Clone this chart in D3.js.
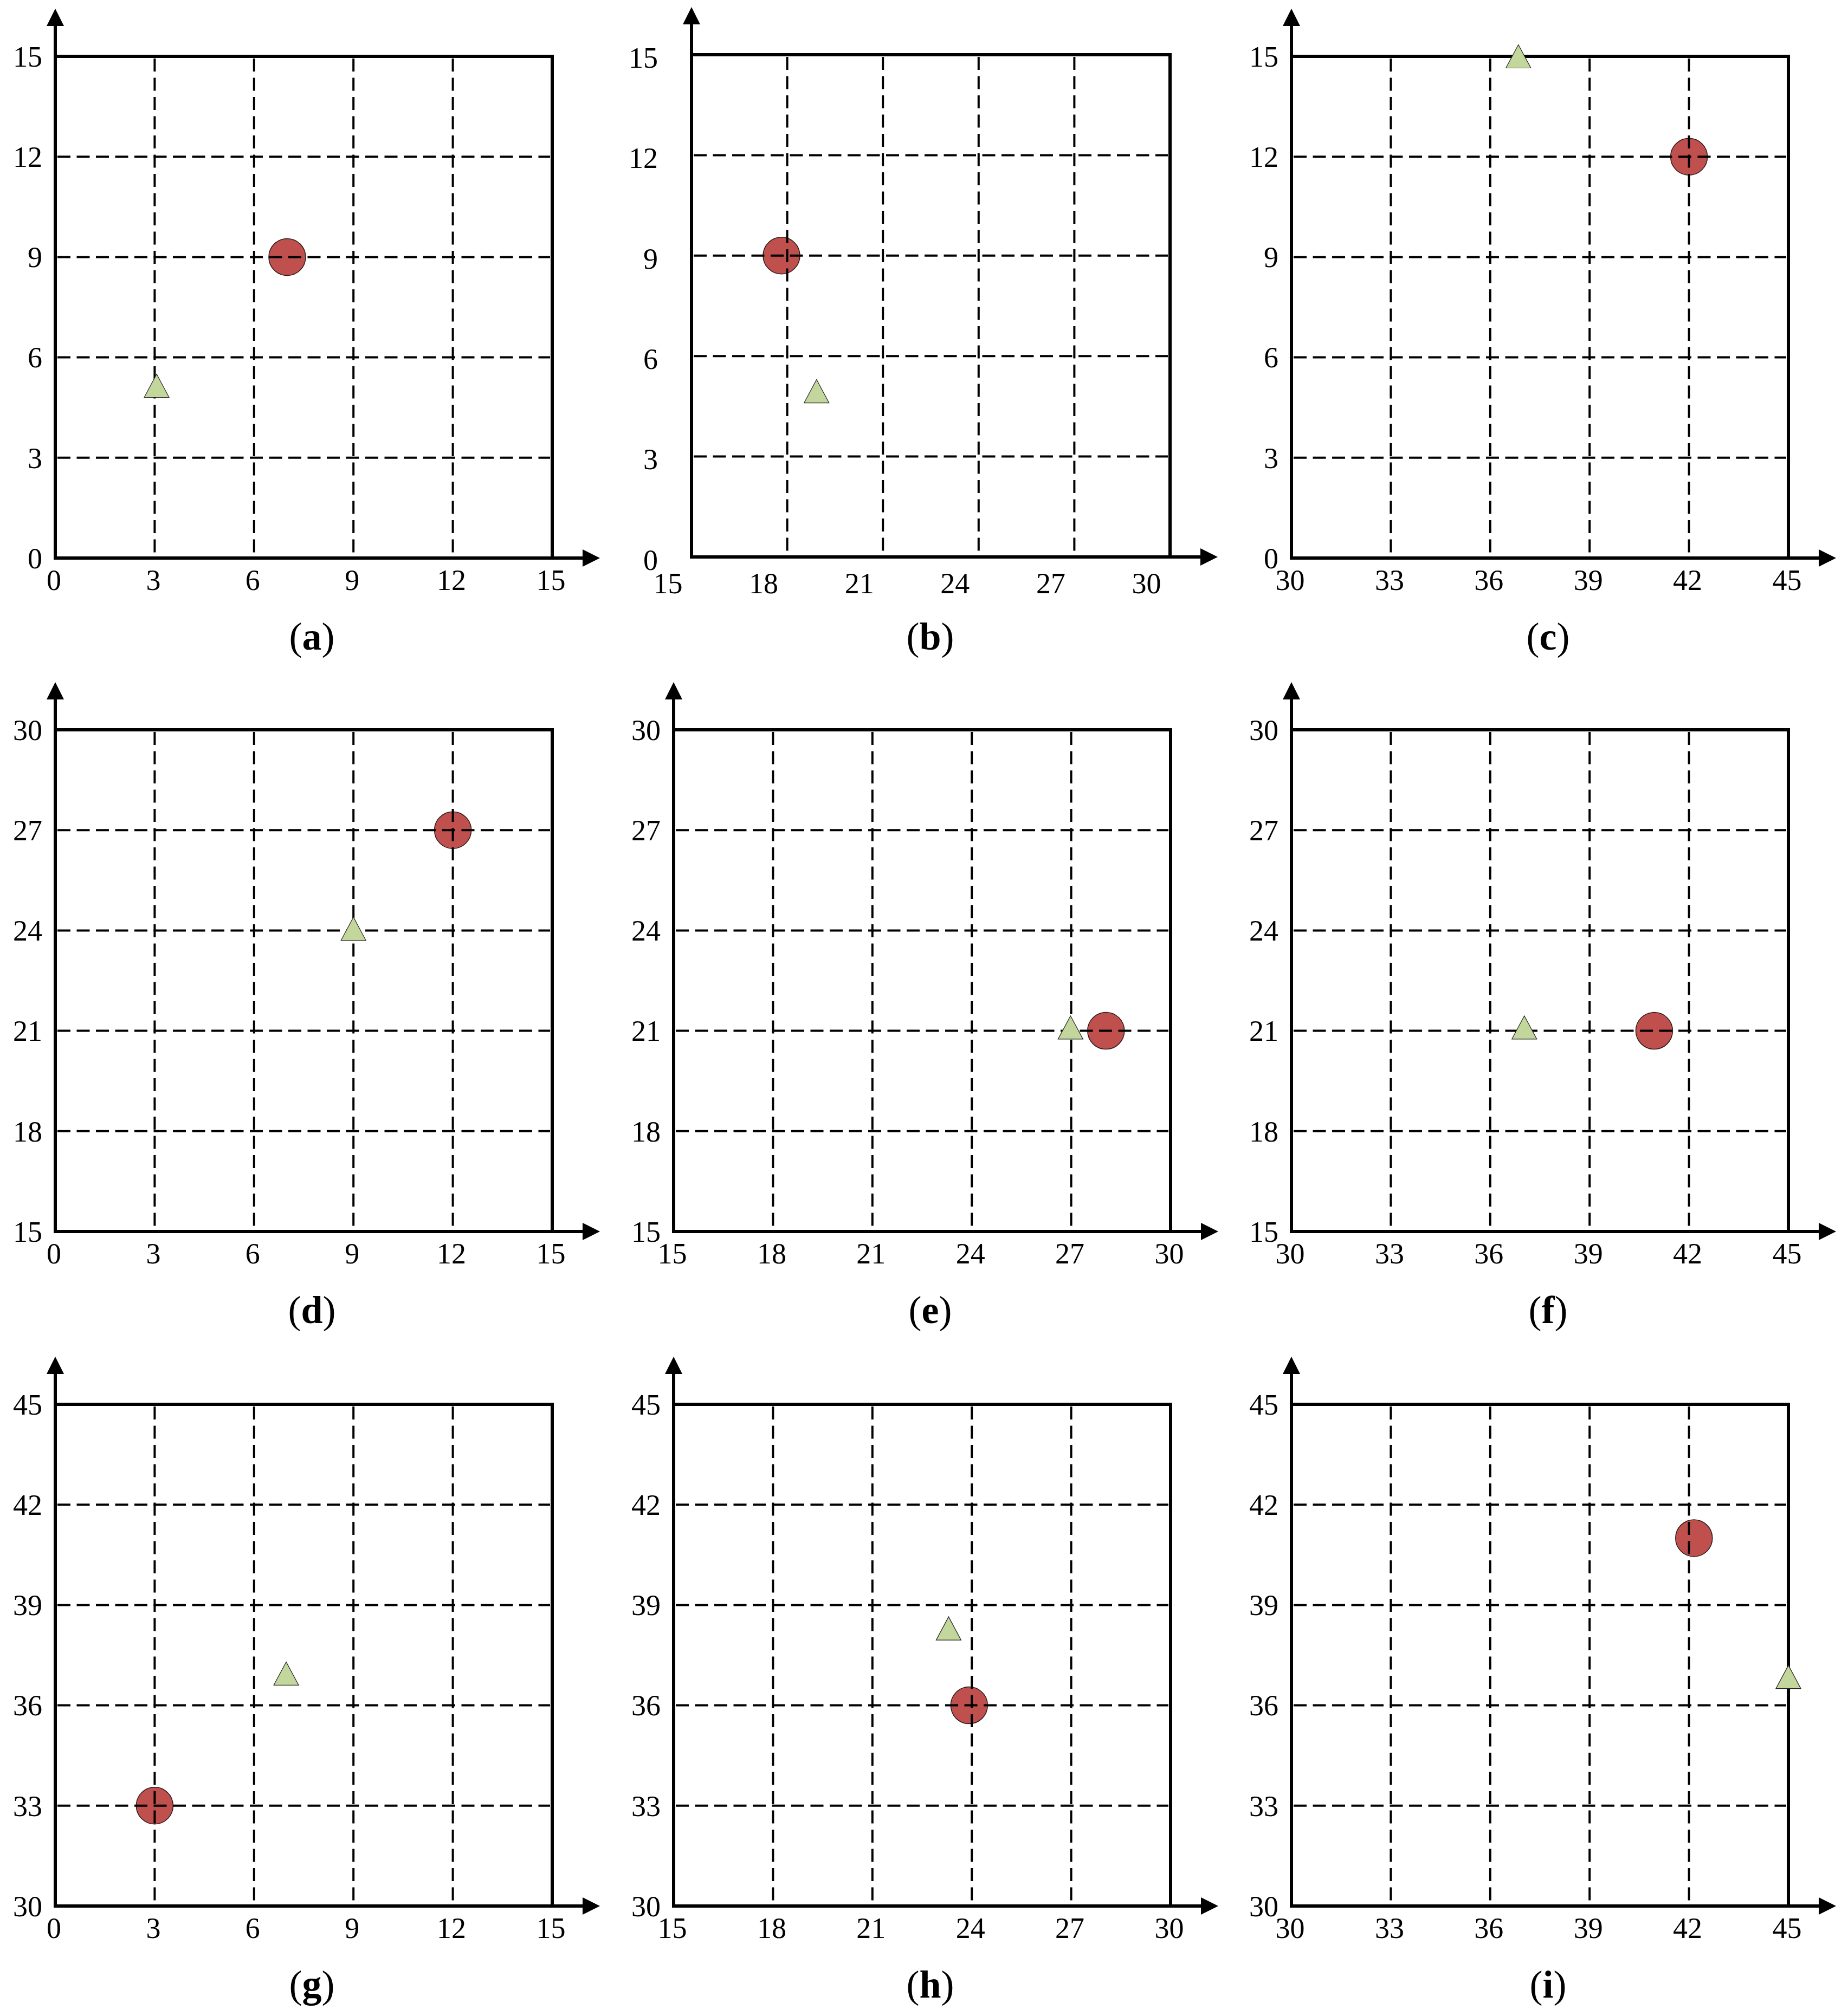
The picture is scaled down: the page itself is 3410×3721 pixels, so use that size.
<!DOCTYPE html>
<html>
<head>
<meta charset="utf-8">
<script src="https://cdn.jsdelivr.net/npm/d3@7"></script>
<style>
  body { margin: 0; background: #fff; }
</style>
</head>
<body>
<div id="chart"></div>
<script>
const width = 3410;
const height = 3721;

// panels, read left to right, top to bottom
const panelLabels = ["a", "b", "c", "d", "e", "f", "g", "h", "i"];
const xRanges = [[0, 15], [15, 30], [30, 45]];   // per column
const yRanges = [[0, 15], [15, 30], [30, 45]];   // per row
const xTickValues = [
    [0, 3, 6, 9, 12, 15],
    [15, 18, 21, 24, 27, 30],
    [30, 33, 36, 39, 42, 45]
];
const yTickValues = [
    [0, 3, 6, 9, 12, 15],
    [15, 18, 21, 24, 27, 30],
    [30, 33, 36, 39, 42, 45]
];

// red circle, one per panel
const circleX = [7, 17.82, 42, 12, 28.05, 40.95, 3, 23.92, 42.15];
const circleY = [9, 9, 12, 27, 21, 21, 33, 36, 41];
// green triangle, one per panel
const triangleX = [3.06, 18.92, 36.85, 9, 26.98, 37.03, 6.97, 23.3, 45];
const triangleY = [5.15, 4.95, 15, 24.05, 21.1, 21.1, 36.95, 38.3, 36.85];

// layout
const colLeft = [102, 1243, 2383];
const rowTop = [104, 1347, 2592];
const frameW = 917;
const frameH = 926;
const arrowExt = 88;
const serif = "'Liberation Serif', 'Times New Roman', serif";

// panel (b) is drawn a bit narrower and its labels sit off the grid
const tweaks = {
    b: { left: 1276, top: 101, w: 883, h: 927, xLabelDx: -44, xLabelDy: 8, yLabelDx: -38, yLabelDy: 6 }
};

const svg = d3.select("#chart").append("svg")
    .attr("width", width)
    .attr("height", height)
    .attr("viewBox", `0 0 ${width} ${height}`);

svg.append("rect").attr("width", width).attr("height", height).attr("fill", "#fff");

panelLabels.forEach((label, i) => {
    const col = i % 3;
    const row = Math.floor(i / 3);
    const t = tweaks[label] || {};
    const left = t.left ?? colLeft[col];
    const top = t.top ?? rowTop[row];
    const w = t.w ?? frameW;
    const h = t.h ?? frameH;

    const x = d3.scaleLinear().domain(xRanges[col]).range([0, w]);
    const y = d3.scaleLinear().domain(yRanges[row]).range([h, 0]);

    const g = svg.append("g").attr("transform", `translate(${left},${top})`);

    // circle sits under the dashed grid
    g.append("circle")
        .attr("cx", x(circleX[i]))
        .attr("cy", y(circleY[i]))
        .attr("r", 34)
        .attr("fill", "#C0504D")
        .attr("stroke", "#2b1a1a")
        .attr("stroke-width", 1.5);

    const xInner = xTickValues[col].slice(1, -1);
    const yInner = yTickValues[row].slice(1, -1);

    g.selectAll(".vgrid").data(xInner).join("line")
        .attr("class", "vgrid")
        .attr("x1", d => x(d)).attr("x2", d => x(d))
        .attr("y1", 4).attr("y2", h - 4)
        .attr("stroke", "#000")
        .attr("stroke-width", 4)
        .attr("stroke-dasharray", "24,11.5");

    g.selectAll(".hgrid").data(yInner).join("line")
        .attr("class", "hgrid")
        .attr("y1", d => y(d)).attr("y2", d => y(d))
        .attr("x1", 4).attr("x2", w - 4)
        .attr("stroke", "#000")
        .attr("stroke-width", 4)
        .attr("stroke-dasharray", "24,11.5");

    // tick labels
    const xAxis = d3.axisBottom(x).tickValues(xTickValues[col]).tickSize(0).tickPadding(21);
    g.append("g")
        .attr("transform", `translate(${t.xLabelDx ?? -3},${h + (t.xLabelDy ?? 0)})`)
        .call(xAxis)
        .call(a => a.select(".domain").remove())
        .attr("font-family", serif)
        .attr("font-size", 54);

    const yAxis = d3.axisLeft(y).tickValues(yTickValues[row]).tickSize(0).tickPadding(24);
    g.append("g")
        .attr("transform", `translate(${t.yLabelDx ?? 0},${t.yLabelDy ?? 1})`)
        .call(yAxis)
        .call(a => a.select(".domain").remove())
        .attr("font-family", serif)
        .attr("font-size", 54);

    // frame (top + right) and the two arrowed axes
    g.append("path")
        .attr("d", `M0,0H${w}V${h}`)
        .attr("fill", "none")
        .attr("stroke", "#000")
        .attr("stroke-width", 6)
        .attr("stroke-linejoin", "miter");

    g.append("line")
        .attr("x1", -3).attr("x2", w + arrowExt - 30)
        .attr("y1", h).attr("y2", h)
        .attr("stroke", "#000").attr("stroke-width", 6);
    g.append("path")
        .attr("d", `M${w + arrowExt - 32},${h - 16}L${w + arrowExt},${h}L${w + arrowExt - 32},${h + 16}Z`)
        .attr("fill", "#000");

    g.append("line")
        .attr("x1", 0).attr("x2", 0)
        .attr("y1", h + 3).attr("y2", -arrowExt + 30)
        .attr("stroke", "#000").attr("stroke-width", 6);
    g.append("path")
        .attr("d", `M-16,${-arrowExt + 32}L0,${-arrowExt}L16,${-arrowExt + 32}Z`)
        .attr("fill", "#000");

    // triangle on top
    g.append("path")
        .attr("transform", `translate(${x(triangleX[i])},${y(triangleY[i])})`)
        .attr("d", "M0,-21.5L23,21.5L-23,21.5Z")
        .attr("fill", "#C3D69B")
        .attr("stroke", "#222")
        .attr("stroke-width", 1.2);

    // caption "(a)" with bold letter
    const cap = svg.append("text")
        .attr("x", colLeft[col] + frameW / 2 + 15)
        .attr("y", rowTop[row] + frameH + 169)
        .attr("text-anchor", "middle")
        .attr("font-family", serif)
        .attr("font-size", 72);
    cap.append("tspan").text("(");
    cap.append("tspan").attr("font-weight", "bold").text(label);
    cap.append("tspan").text(")");
});
</script>
</body>
</html>
